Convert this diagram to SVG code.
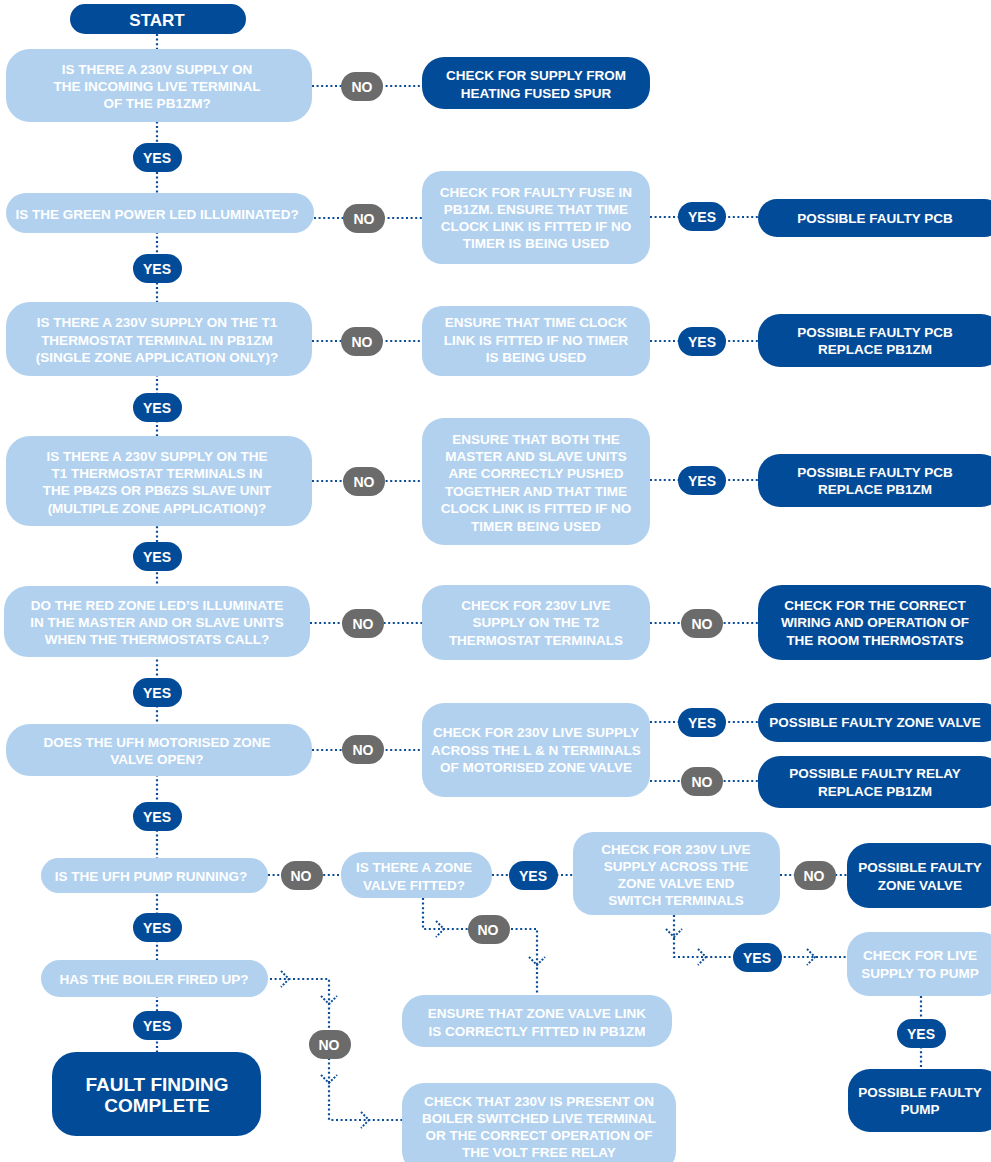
<svg xmlns="http://www.w3.org/2000/svg" width="991" height="1162" viewBox="0 0 991 1162">
<defs>
<style>
.dk{fill:#024B98}
.lt{fill:#B1D1EF}
.gy{fill:#6B6B6B}
.c{fill:none;stroke:#0B4C97;stroke-width:2.2;stroke-dasharray:2 2.6}
.ch{fill:none;stroke:#0B4C97;stroke-width:2;stroke-dasharray:2 1.6}
text{font-family:"Liberation Sans Narrow","Liberation Sans",Arial,sans-serif;font-weight:bold;fill:#fff;text-anchor:middle;dominant-baseline:central}
.t{font-size:13.5px}
.pl{font-size:14px}
.big{font-size:19px}
</style>
</defs>
<g id="connectors">
<line class="c" x1="157" y1="34" x2="157" y2="1052"/>
<line class="c" x1="312" y1="86" x2="422" y2="86"/>
<line class="c" x1="314" y1="218" x2="422" y2="218"/>
<line class="c" x1="650" y1="217" x2="758" y2="217"/>
<line class="c" x1="312" y1="341" x2="422" y2="341"/>
<line class="c" x1="650" y1="341" x2="758" y2="341"/>
<line class="c" x1="312" y1="481" x2="422" y2="481"/>
<line class="c" x1="650" y1="480" x2="758" y2="480"/>
<line class="c" x1="310" y1="623" x2="422" y2="623"/>
<line class="c" x1="650" y1="623" x2="758" y2="623"/>
<line class="c" x1="312" y1="750" x2="422" y2="750"/>
<line class="c" x1="650" y1="722" x2="758" y2="722"/>
<line class="c" x1="650" y1="781" x2="758" y2="781"/>
<line class="c" x1="268" y1="875" x2="341" y2="875"/>
<line class="c" x1="492" y1="875" x2="573" y2="875"/>
<line class="c" x1="780" y1="875" x2="847" y2="875"/>
<polyline class="c" points="423,898 423,929 488,929"/>
<polyline class="ch" points="436,921 444,929 436,937"/>
<polyline class="c" points="488,929 537,929 537,995"/>
<polyline class="ch" points="529,957 537,965 545,957"/>
<polyline class="c" points="674,915 674,957 847,957"/>
<polyline class="ch" points="666,929 674,937 682,929"/>
<polyline class="ch" points="698,949 706,957 698,965"/>
<polyline class="ch" points="807,949 815,957 807,965"/>
<line class="c" x1="921" y1="996" x2="921" y2="1069"/>
<polyline class="c" points="270,979 329,979 329,1120 402,1120"/>
<polyline class="ch" points="281,971 289,979 281,987"/>
<polyline class="ch" points="321,996 329,1004 337,996"/>
<polyline class="ch" points="321,1075 329,1083 337,1075"/>
<polyline class="ch" points="361,1112 369,1120 361,1128"/>
</g>
<g id="start"><rect class="dk" x="70" y="4" width="176" height="30" rx="15"/><text x="157" y="20" style="font-size:17px">START</text></g>
<g id="q1"><rect class="lt" x="6" y="49" width="306" height="73" rx="24"/><text class="t" x="157" y="69">IS THERE A 230V SUPPLY ON</text><text class="t" x="157" y="86">THE INCOMING LIVE TERMINAL</text><text class="t" x="157" y="103">OF THE PB1ZM?</text></g>
<g id="no1"><rect class="gy" x="341" y="72" width="42" height="29" rx="14.5"/><text class="pl" x="362" y="87">NO</text></g>
<g id="r1"><rect class="dk" x="422" y="57" width="228" height="52" rx="22"/><text class="t" x="536" y="75">CHECK FOR SUPPLY FROM</text><text class="t" x="536" y="93">HEATING FUSED SPUR</text></g>
<g id="yes1"><rect class="dk" x="133" y="143" width="49" height="29" rx="14.5"/><text class="pl" x="157" y="158">YES</text></g>
<g id="q2"><rect class="lt" x="6" y="193" width="308" height="40" rx="20"/><text class="t" x="157" y="214">IS THE GREEN POWER LED ILLUMINATED?</text></g>
<g id="no2"><rect class="gy" x="343" y="204" width="42" height="29" rx="14.5"/><text class="pl" x="364" y="219">NO</text></g>
<g id="b2"><rect class="lt" x="422" y="171" width="228" height="93" rx="20"/><text class="t" x="536" y="192">CHECK FOR FAULTY FUSE IN</text><text class="t" x="536" y="209">PB1ZM. ENSURE THAT TIME</text><text class="t" x="536" y="226">CLOCK LINK IS FITTED IF NO</text><text class="t" x="536" y="243">TIMER IS BEING USED</text></g>
<g id="yes2"><rect class="dk" x="678" y="202" width="48" height="29" rx="14.5"/><text class="pl" x="702" y="217">YES</text></g>
<g id="r2"><rect class="dk" x="758" y="199" width="245" height="38" rx="19"/><text class="t" x="875" y="218">POSSIBLE FAULTY PCB</text></g>
<g id="yes3"><rect class="dk" x="133" y="254" width="49" height="29" rx="14.5"/><text class="pl" x="157" y="269">YES</text></g>
<g id="q3"><rect class="lt" x="6" y="302" width="306" height="74" rx="24"/><text class="t" x="157" y="322">IS THERE A 230V SUPPLY ON THE T1</text><text class="t" x="157" y="340">THERMOSTAT TERMINAL IN PB1ZM</text><text class="t" x="157" y="357">(SINGLE ZONE APPLICATION ONLY)?</text></g>
<g id="no3"><rect class="gy" x="341" y="327" width="42" height="29" rx="14.5"/><text class="pl" x="362" y="342">NO</text></g>
<g id="b3"><rect class="lt" x="422" y="306" width="228" height="70" rx="20"/><text class="t" x="536" y="322">ENSURE THAT TIME CLOCK</text><text class="t" x="536" y="340">LINK IS FITTED IF NO TIMER</text><text class="t" x="536" y="357">IS BEING USED</text></g>
<g id="yes3b"><rect class="dk" x="678" y="327" width="48" height="29" rx="14.5"/><text class="pl" x="702" y="342">YES</text></g>
<g id="r3"><rect class="dk" x="758" y="314" width="245" height="53" rx="22"/><text class="t" x="875" y="332">POSSIBLE FAULTY PCB</text><text class="t" x="875" y="349">REPLACE PB1ZM</text></g>
<g id="yes4"><rect class="dk" x="133" y="393" width="49" height="29" rx="14.5"/><text class="pl" x="157" y="408">YES</text></g>
<g id="q4"><rect class="lt" x="6" y="436" width="306" height="90" rx="24"/><text class="t" x="157" y="456">IS THERE A 230V SUPPLY ON THE</text><text class="t" x="157" y="473">T1 THERMOSTAT TERMINALS IN</text><text class="t" x="157" y="490">THE PB4ZS OR PB6ZS SLAVE UNIT</text><text class="t" x="157" y="508">(MULTIPLE ZONE APPLICATION)?</text></g>
<g id="no4"><rect class="gy" x="343" y="467" width="42" height="29" rx="14.5"/><text class="pl" x="364" y="482">NO</text></g>
<g id="b4"><rect class="lt" x="422" y="418" width="228" height="127" rx="22"/><text class="t" x="536" y="439">ENSURE THAT BOTH THE</text><text class="t" x="536" y="456">MASTER AND SLAVE UNITS</text><text class="t" x="536" y="473">ARE CORRECTLY PUSHED</text><text class="t" x="536" y="491">TOGETHER AND THAT TIME</text><text class="t" x="536" y="508">CLOCK LINK IS FITTED IF NO</text><text class="t" x="536" y="526">TIMER BEING USED</text></g>
<g id="yes4b"><rect class="dk" x="678" y="466" width="48" height="29" rx="14.5"/><text class="pl" x="702" y="481">YES</text></g>
<g id="r4"><rect class="dk" x="758" y="454" width="245" height="53" rx="22"/><text class="t" x="875" y="472">POSSIBLE FAULTY PCB</text><text class="t" x="875" y="489">REPLACE PB1ZM</text></g>
<g id="yes5"><rect class="dk" x="133" y="542" width="49" height="29" rx="14.5"/><text class="pl" x="157" y="557">YES</text></g>
<g id="q5"><rect class="lt" x="4" y="586" width="306" height="71" rx="24"/><text class="t" x="157" y="605">DO THE RED ZONE LED’S ILLUMINATE</text><text class="t" x="157" y="622">IN THE MASTER AND OR SLAVE UNITS</text><text class="t" x="157" y="639">WHEN THE THERMOSTATS CALL?</text></g>
<g id="no5"><rect class="gy" x="342" y="609" width="42" height="29" rx="14.5"/><text class="pl" x="363" y="624">NO</text></g>
<g id="b5"><rect class="lt" x="422" y="585" width="228" height="75" rx="22"/><text class="t" x="536" y="605">CHECK FOR 230V LIVE</text><text class="t" x="536" y="622">SUPPLY ON THE T2</text><text class="t" x="536" y="640">THERMOSTAT TERMINALS</text></g>
<g id="no5b"><rect class="gy" x="681" y="609" width="42" height="29" rx="14.5"/><text class="pl" x="702" y="624">NO</text></g>
<g id="r5"><rect class="dk" x="758" y="585" width="245" height="75" rx="24"/><text class="t" x="875" y="605">CHECK FOR THE CORRECT</text><text class="t" x="875" y="622">WIRING AND OPERATION OF</text><text class="t" x="875" y="640">THE ROOM THERMOSTATS</text></g>
<g id="yes6"><rect class="dk" x="133" y="678" width="49" height="29" rx="14.5"/><text class="pl" x="157" y="693">YES</text></g>
<g id="q6"><rect class="lt" x="6" y="724" width="306" height="52" rx="24"/><text class="t" x="157" y="742">DOES THE UFH MOTORISED ZONE</text><text class="t" x="157" y="759">VALVE OPEN?</text></g>
<g id="no6"><rect class="gy" x="342" y="735" width="42" height="29" rx="14.5"/><text class="pl" x="363" y="750">NO</text></g>
<g id="b6"><rect class="lt" x="422" y="703" width="228" height="94" rx="22"/><text class="t" x="536" y="732">CHECK FOR 230V LIVE SUPPLY</text><text class="t" x="536" y="750">ACROSS THE L &amp; N TERMINALS</text><text class="t" x="536" y="767">OF MOTORISED ZONE VALVE</text></g>
<g id="yes6b"><rect class="dk" x="678" y="708" width="48" height="29" rx="14.5"/><text class="pl" x="702" y="723">YES</text></g>
<g id="no6b"><rect class="gy" x="681" y="767" width="42" height="29" rx="14.5"/><text class="pl" x="702" y="782">NO</text></g>
<g id="r6a"><rect class="dk" x="758" y="703" width="245" height="39" rx="19.5"/><text class="t" x="875" y="722">POSSIBLE FAULTY ZONE VALVE</text></g>
<g id="r6b"><rect class="dk" x="758" y="756" width="245" height="52" rx="22"/><text class="t" x="875" y="773">POSSIBLE FAULTY RELAY</text><text class="t" x="875" y="791">REPLACE PB1ZM</text></g>
<g id="yes7"><rect class="dk" x="133" y="802" width="49" height="29" rx="14.5"/><text class="pl" x="157" y="817">YES</text></g>
<g id="q7"><rect class="lt" x="41" y="858" width="227" height="35" rx="17.5"/><text class="t" x="151" y="876">IS THE UFH PUMP RUNNING?</text></g>
<g id="no7"><rect class="gy" x="281" y="861" width="42" height="29" rx="14.5"/><text class="pl" x="301" y="876">NO</text></g>
<g id="q7b"><rect class="lt" x="341" y="852" width="151" height="46" rx="22"/><text class="t" x="414" y="867">IS THERE A ZONE</text><text class="t" x="414" y="885">VALVE FITTED?</text></g>
<g id="yes7b"><rect class="dk" x="509" y="861" width="49" height="29" rx="14.5"/><text class="pl" x="533" y="876">YES</text></g>
<g id="b7"><rect class="lt" x="573" y="832" width="207" height="83" rx="20"/><text class="t" x="676" y="849">CHECK FOR 230V LIVE</text><text class="t" x="676" y="866">SUPPLY ACROSS THE</text><text class="t" x="676" y="883">ZONE VALVE END</text><text class="t" x="676" y="900">SWITCH TERMINALS</text></g>
<g id="no7b"><rect class="gy" x="794" y="861" width="42" height="29" rx="14.5"/><text class="pl" x="814" y="876">NO</text></g>
<g id="r7"><rect class="dk" x="847" y="843" width="156" height="65" rx="22"/><text class="t" x="920" y="867">POSSIBLE FAULTY</text><text class="t" x="920" y="885">ZONE VALVE</text></g>
<g id="no8"><rect class="gy" x="468" y="915" width="42" height="29" rx="14.5"/><text class="pl" x="488" y="930">NO</text></g>
<g id="b8"><rect class="lt" x="402" y="995" width="270" height="52" rx="22"/><text class="t" x="537" y="1013">ENSURE THAT ZONE VALVE LINK</text><text class="t" x="537" y="1031">IS CORRECTLY FITTED IN PB1ZM</text></g>
<g id="yes8b"><rect class="dk" x="733" y="943" width="49" height="29" rx="14.5"/><text class="pl" x="757" y="958">YES</text></g>
<g id="b9"><rect class="lt" x="847" y="932" width="156" height="64" rx="22"/><text class="t" x="920" y="955">CHECK FOR LIVE</text><text class="t" x="920" y="973">SUPPLY TO PUMP</text></g>
<g id="yes9b"><rect class="dk" x="897" y="1019" width="49" height="29" rx="14.5"/><text class="pl" x="921" y="1034">YES</text></g>
<g id="r9"><rect class="dk" x="848" y="1069" width="155" height="63" rx="22"/><text class="t" x="920" y="1092">POSSIBLE FAULTY</text><text class="t" x="920" y="1109">PUMP</text></g>
<g id="yes8"><rect class="dk" x="133" y="913" width="49" height="29" rx="14.5"/><text class="pl" x="157" y="928">YES</text></g>
<g id="q8"><rect class="lt" x="41" y="960" width="227" height="37" rx="18.5"/><text class="t" x="154" y="979">HAS THE BOILER FIRED UP?</text></g>
<g id="no9"><rect class="gy" x="309" y="1030" width="42" height="29" rx="14.5"/><text class="pl" x="329" y="1045">NO</text></g>
<g id="b10"><rect class="lt" x="402" y="1083" width="274" height="90" rx="22"/><text class="t" x="539" y="1101">CHECK THAT 230V IS PRESENT ON</text><text class="t" x="539" y="1118">BOILER SWITCHED LIVE TERMINAL</text><text class="t" x="539" y="1135">OR THE CORRECT OPERATION OF</text><text class="t" x="539" y="1152">THE VOLT FREE RELAY</text></g>
<g id="yes9"><rect class="dk" x="133" y="1011" width="49" height="29" rx="14.5"/><text class="pl" x="157" y="1026">YES</text></g>
<g id="end"><rect class="dk" x="52" y="1052" width="209" height="84" rx="24"/><text class="big" x="157" y="1084">FAULT FINDING</text><text class="big" x="157" y="1105">COMPLETE</text></g>
</svg>
